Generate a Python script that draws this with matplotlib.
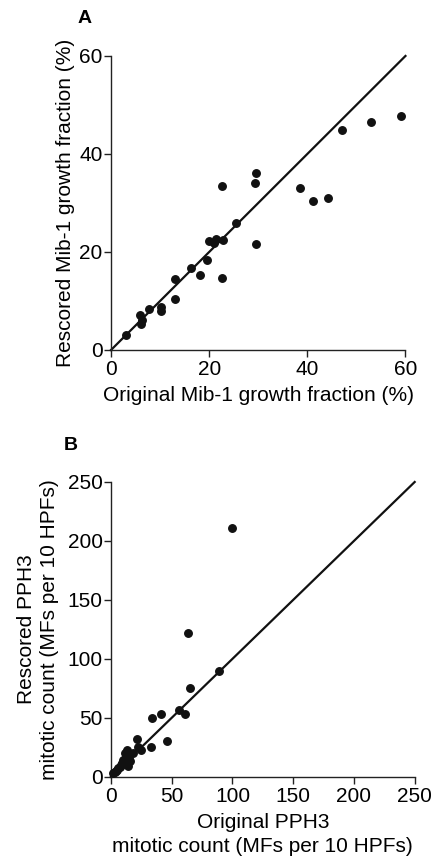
import matplotlib
matplotlib.use("Agg")
import matplotlib.pyplot as plt
import numpy as np

plt.rcParams['font.family'] = ['Liberation Sans', 'DejaVu Sans']

# panel A: Mib-1 growth fraction (%)
mib_orig = [3.1, 5.9, 6.3, 6.1, 7.7, 10.2, 10.2, 13.0, 13.0, 16.3, 18.1, 19.6,
            20.0, 20.9, 21.4, 22.8, 22.6, 22.7, 25.5, 29.5, 29.4, 29.6, 38.5,
            41.2, 44.2, 47.1, 52.9, 59.0]
mib_resc = [3.1, 7.1, 6.1, 5.4, 8.4, 8.8, 8.0, 10.5, 14.5, 16.7, 15.4, 18.3,
            22.2, 21.9, 22.7, 22.4, 14.6, 33.5, 25.9, 36.1, 34.1, 21.6, 33.1,
            30.5, 31.0, 44.8, 46.5, 47.7]

# panel B: PPH3 mitotic count (MFs per 10 HPFs)
pph_orig = [100, 63, 89, 65, 56, 61, 41, 34, 46, 33, 25, 21, 22, 13.5, 14, 11.5,
            18, 12, 10, 9, 8, 7, 6, 5, 4, 3, 2, 13, 15, 16]
pph_resc = [211, 122, 90, 75, 57, 53, 53, 50, 30, 25, 23, 32, 25, 23, 9, 20,
            20, 17, 14, 12, 10, 8, 7, 6, 5, 4, 3, 12, 15, 13]

fs = 15

fig = plt.figure(figsize=(4.33, 8.61), dpi=100)
axA = fig.add_axes([0.2564, 0.5935, 0.680, 0.3415])
axB = fig.add_axes([0.2564, 0.0979, 0.7013, 0.3423])


def style(ax, lim, ticks):
    ax.plot([0, lim], [0, lim], color='#111111', lw=1.6, zorder=2, clip_on=False)
    ax.set_xlim(0, lim)
    ax.set_ylim(0, lim)
    ax.set_xticks(ticks)
    ax.set_yticks(ticks)
    for s in ['top', 'right']:
        ax.spines[s].set_visible(False)
    for s in ['left', 'bottom']:
        ax.spines[s].set_linewidth(1.0)
        ax.spines[s].set_color('#222222')
    ax.tick_params(direction='out', length=5, width=1.0, labelsize=fs, pad=1,
                   color='#222222')
    ax.tick_params(axis='x', pad=2.5)


style(axA, 60, [0, 20, 40, 60])
axA.plot(mib_orig, mib_resc, 'o', color='#111111', ms=5.4, zorder=3, clip_on=False)
axA.set_xlabel('Original Mib-1 growth fraction (%)', fontsize=fs, labelpad=5)
axA.set_ylabel('Rescored Mib-1 growth fraction (%)', fontsize=fs, labelpad=3)
fig.text(0.196, 0.978, 'A', fontsize=14, fontweight='bold', ha='center', va='center')

style(axB, 250, [0, 50, 100, 150, 200, 250])
axB.plot(pph_orig, pph_resc, 'o', color='#111111', ms=5.4, zorder=3, clip_on=False)
axB.set_xlabel('Original PPH3\nmitotic count (MFs per 10 HPFs)', fontsize=fs,
               labelpad=5, linespacing=1.3)
axB.set_ylabel('Rescored PPH3\nmitotic count (MFs per 10 HPFs)', fontsize=fs,
               labelpad=6, linespacing=1.3)
fig.text(0.164, 0.483, 'B', fontsize=14, fontweight='bold', ha='center', va='center')

fig.savefig('out.png', dpi=100)
